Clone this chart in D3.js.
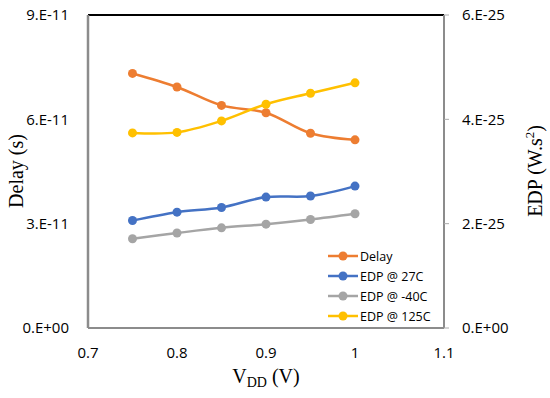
<!DOCTYPE html>
<html>
<head>
<meta charset="utf-8">
<script src="https://cdn.jsdelivr.net/npm/d3@7"></script>
<style>
  body { margin: 0; background: #fff; }
  svg { display: block; }
  .tick-label { font-family: "Open Sans", "Liberation Sans", sans-serif; font-size: 15px; fill: #000; }
  .title { font-family: "Liberation Serif", "DejaVu Serif", serif; font-size: 20px; fill: #000; }
  .legend { font-family: "Open Sans", "Liberation Sans", sans-serif; font-size: 12.5px; fill: #000; }
</style>
</head>
<body>
<svg id="chart" width="550" height="398"></svg>
<script>
// data
let vdd = [0.75, 0.8, 0.85, 0.9, 0.95, 1.0];
let delay = [7.32e-11, 6.93e-11, 6.40e-11, 6.19e-11, 5.60e-11, 5.41e-11];
let edp27 = [2.06e-25, 2.22e-25, 2.31e-25, 2.51e-25, 2.53e-25, 2.72e-25];
let edpM40 = [1.71e-25, 1.82e-25, 1.92e-25, 1.99e-25, 2.08e-25, 2.19e-25];
let edp125 = [3.74e-25, 3.75e-25, 3.97e-25, 4.29e-25, 4.50e-25, 4.70e-25];
let xTicks = [0.7, 0.8, 0.9, 1.0, 1.1];
let xTickLabels = ["0.7", "0.8", "0.9", "1", "1.1"];
let leftTicks = [0, 3e-11, 6e-11, 9e-11];
let leftTickLabels = ["0.E+00", "3.E-11", "6.E-11", "9.E-11"];
let rightTicks = [0, 2e-25, 4e-25, 6e-25];
let rightTickLabels = ["0.E+00", "2.E-25", "4.E-25", "6.E-25"];

let series = [
	{ name: "Delay", values: delay, axis: "left", color: "#ED7D31" },
	{ name: "EDP @ 27C", values: edp27, axis: "right", color: "#4472C4" },
	{ name: "EDP @ -40C", values: edpM40, axis: "right", color: "#A5A5A5" },
	{ name: "EDP @ 125C", values: edp125, axis: "right", color: "#FFC000" }
];

let svg = d3.select("#chart");
let pLeft = 88, pRight = 444, pTop = 15, pBottom = 328;

let x = d3.scaleLinear().domain([0.7, 1.1]).range([pLeft, pRight]);
let yL = d3.scaleLinear().domain([0, 9e-11]).range([pBottom, pTop]);
let yR = d3.scaleLinear().domain([0, 6e-25]).range([pBottom, pTop]);

// frame
svg.append("line").attr("x1", pLeft).attr("x2", pRight).attr("y1", pTop).attr("y2", pTop)
	.attr("stroke", "#000").attr("stroke-width", 2);
svg.append("line").attr("x1", pLeft).attr("x2", pLeft).attr("y1", pTop).attr("y2", pBottom)
	.attr("stroke", "#8c8c8c").attr("stroke-width", 2.5);
svg.append("line").attr("x1", pRight).attr("x2", pRight).attr("y1", pTop).attr("y2", pBottom)
	.attr("stroke", "#8c8c8c").attr("stroke-width", 2);
svg.append("line").attr("x1", pLeft).attr("x2", pRight).attr("y1", pBottom).attr("y2", pBottom)
	.attr("stroke", "#8c8c8c").attr("stroke-width", 2);

// right ticks
svg.selectAll(".rtick").data(rightTicks).enter().append("line")
	.attr("x1", pRight).attr("x2", pRight + 5)
	.attr("y1", d => yR(d)).attr("y2", d => yR(d))
	.attr("stroke", "#aaa").attr("stroke-width", 1);

// tick labels
svg.selectAll(".xl").data(xTicks).enter().append("text")
	.attr("class", "tick-label").attr("text-anchor", "middle")
	.attr("x", d => x(d)).attr("y", 358)
	.text((d, i) => xTickLabels[i]);
svg.selectAll(".ll").data(leftTicks).enter().append("text")
	.attr("class", "tick-label").attr("text-anchor", "end")
	.attr("x", 69).attr("y", d => yL(d)).attr("dy", "0.36em")
	.text((d, i) => leftTickLabels[i]);
svg.selectAll(".rl").data(rightTicks).enter().append("text")
	.attr("class", "tick-label").attr("text-anchor", "start")
	.attr("x", 462).attr("y", d => yR(d)).attr("dy", "0.36em")
	.text((d, i) => rightTickLabels[i]);

// lines
series.forEach(s => {
	let y = s.axis == "left" ? yL : yR;
	let line = d3.line().x((d, i) => x(vdd[i])).y(d => y(d)).curve(d3.curveCatmullRom.alpha(0.5));
	svg.append("path").datum(s.values).attr("d", line)
		.attr("fill", "none").attr("stroke", s.color).attr("stroke-width", 2.5);
	svg.selectAll(null).data(s.values).enter().append("circle")
		.attr("cx", (d, i) => x(vdd[i])).attr("cy", d => y(d)).attr("r", 4.5)
		.attr("fill", s.color);
});

// legend
let lg = svg.append("g");
series.forEach((s, i) => {
	let ly = 256 + i * 20;
	lg.append("line").attr("x1", 328).attr("x2", 358).attr("y1", ly).attr("y2", ly)
		.attr("stroke", s.color).attr("stroke-width", 2.5);
	lg.append("circle").attr("cx", 343).attr("cy", ly).attr("r", 4.5).attr("fill", s.color);
	lg.append("text").attr("class", "legend").attr("x", 360).attr("y", ly).attr("dy", "0.36em").text(s.name);
});

// axis titles
let xt = svg.append("text").attr("class", "title").attr("text-anchor", "middle")
	.attr("x", 266).attr("y", 383);
xt.append("tspan").text("V");
xt.append("tspan").attr("font-size", "14px").attr("dy", 4).text("DD");
xt.append("tspan").attr("dy", -4).text(" (V)");

svg.append("text").attr("class", "title").attr("text-anchor", "middle")
	.attr("transform", "translate(23,171) rotate(-90)").text("Delay (s)");

let rt = svg.append("text").attr("class", "title").attr("text-anchor", "middle")
	.attr("transform", "translate(542,171) rotate(-90)");
rt.append("tspan").text("EDP (W.s");
rt.append("tspan").attr("font-size", "13px").attr("dy", -8).text("2");
rt.append("tspan").attr("dy", 8).text(")");
</script>
</body>
</html>
